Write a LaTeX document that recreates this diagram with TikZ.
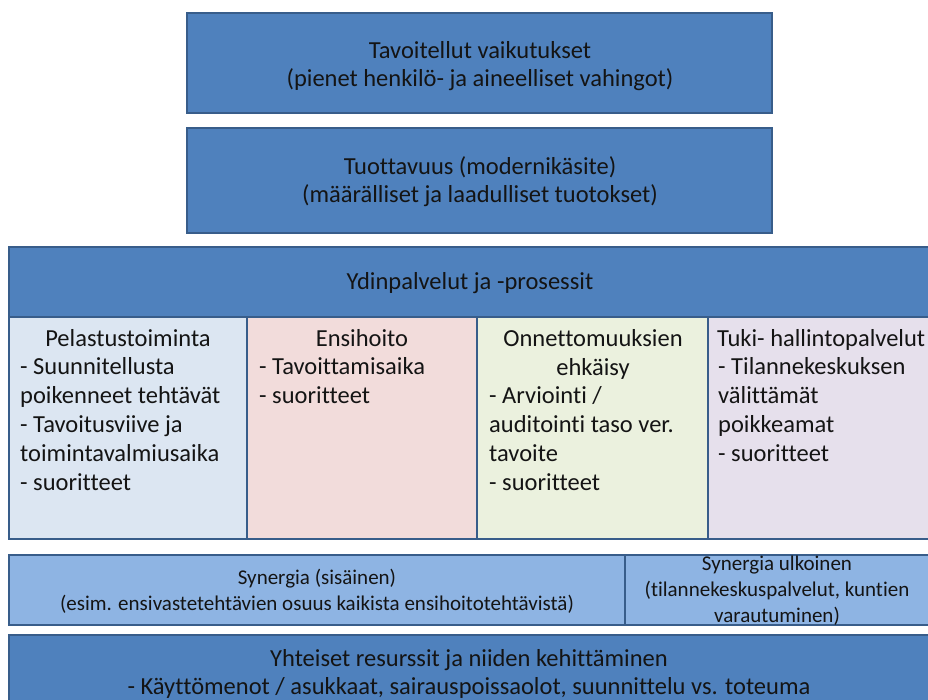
\documentclass[tikz,border=0pt]{standalone}
\usepackage{fontspec}
\setmainfont{Carlito}[Ligatures=NoCommon]
\definecolor{boxblue}{HTML}{4F81BD}
\definecolor{edgeblue}{HTML}{385D8A}
\definecolor{cellblue}{HTML}{DCE6F2}
\definecolor{cellred}{HTML}{F2DCDB}
\definecolor{cellgreen}{HTML}{EBF1DE}
\definecolor{cellviolet}{HTML}{E6E0EC}
\definecolor{synblue}{HTML}{8EB4E3}
\definecolor{txt}{HTML}{141414}
\newcommand\fsz[2]{\fontsize{#1}{#2}\selectfont}
\begin{document}
\begin{tikzpicture}[x=1pt,y=-1pt,
  panel/.style={draw=edgeblue, line width=2pt},
  label/.style={text=txt, inner sep=0pt, font=\fsz{24.5}{28}, align=center},
  listtext/.style={text=txt, inner sep=0pt, font=\fsz{24.5}{29}, align=left, anchor=north west},
  smalltext/.style={text=txt, inner sep=0pt, font=\fsz{21}{26}, align=center}]
\useasboundingbox (0,0) rectangle (928,699);
\clip (0,0) rectangle (928,699);

% upper level boxes
\path[panel, fill=boxblue] (187,13) rectangle (772,113);
\path[panel, fill=boxblue] (187,128) rectangle (772,233);

% core services: header and four cells
\path[panel, fill=cellblue]   (9,317)   rectangle (247,539);
\path[panel, fill=cellred]    (247,317) rectangle (477,539);
\path[panel, fill=cellgreen]  (477,317) rectangle (708,539);
\path[panel, fill=cellviolet] (708,317) rectangle (940,539);
\path[panel, fill=boxblue]    (9,247)   rectangle (940,317);

% synergy row
\path[panel, fill=synblue] (9,555) rectangle (625,625);
\path[panel, fill=synblue] (625,555) rectangle (940,625);

% shared resources
\path[panel, fill=boxblue] (9,635) rectangle (940,720);

% texts
\node[label] (effects) at (480,66) {Tavoitellut vaikutukset\\(pienet henkilö- ja aineelliset vahingot)};
\node[label] (productivity) at (480,182) {Tuottavuus (modernikäsite)\\(määrälliset ja laadulliset tuotokset)};
\node[label] (core) at (470,283) {Ydinpalvelut ja -prosessit};

\node[label, anchor=base] (rescue) at (128,346) {Pelastustoiminta};
\node[listtext] (rescuelist) at (20,357) {- Suunnitellusta\\poikenneet tehtävät\\- Tavoitusviive ja\\toimintavalmiusaika\\- suoritteet};

\node[label, anchor=base] (ems) at (362,346) {Ensihoito};
\node[listtext] (emslist) at (259,357) {- Tavoittamisaika\\- suoritteet};

\node[label, anchor=base] (prevention) at (593,346) {Onnettomuuksien};
\node[label, anchor=base] (prevention2) at (593,375) {ehkäisy};
\node[listtext] (preventionlist) at (489,386) {- Arviointi /\\auditointi taso ver.\\tavoite\\- suoritteet};

\node[label, anchor=base west] (support) at (717,346) {Tuki- hallintopalvelut};
\node[listtext] (supportlist) at (718,357) {- Tilannekeskuksen\\välittämät\\poikkeamat\\- suoritteet};

\node[smalltext] (syninner) at (317,591) {Synergia (sisäinen)\\(esim. ensivastetehtävien osuus kaikista ensihoitotehtävistä)};
\node[smalltext] (synouter) at (777,591) {Synergia ulkoinen\\(tilannekeskuspalvelut, kuntien\\varautuminen)};

\node[label] (resources) at (469,674) {Yhteiset resurssit ja niiden kehittäminen\\- Käyttömenot / asukkaat, sairauspoissaolot, suunnittelu vs. toteuma};
\end{tikzpicture}
\end{document}
